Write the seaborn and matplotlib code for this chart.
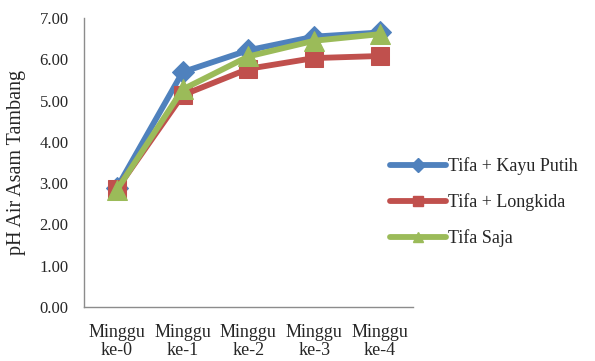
import matplotlib.pyplot as plt
import pandas as pd
import seaborn as sns
from matplotlib.lines import Line2D

weeks = ["Minggu\nke-0", "Minggu\nke-1", "Minggu\nke-2", "Minggu\nke-3", "Minggu\nke-4"]
kayu_putih = [2.88, 5.69, 6.22, 6.55, 6.65]
longkida = [2.85, 5.13, 5.77, 6.03, 6.08]
saja = [2.83, 5.27, 6.07, 6.45, 6.61]
series = ["Tifa + Kayu Putih", "Tifa + Longkida", "Tifa Saja"]

df = pd.DataFrame({
    "week": list(range(len(weeks))) * 3,
    "pH": kayu_putih + longkida + saja,
    "treatment": [s for s in series for _ in weeks],
})

sns.set_style("white")
plt.rcParams["font.family"] = ["Liberation Serif", "DejaVu Serif"]

fig = plt.figure(figsize=(5.95, 3.61), dpi=100)
ax = fig.add_axes([0.141, 0.150, 0.553, 0.800])

colors = {"Tifa + Kayu Putih": "#4F81BD", "Tifa + Longkida": "#C0504D", "Tifa Saja": "#9BBB59"}
markers = {"Tifa + Kayu Putih": "D", "Tifa + Longkida": "s", "Tifa Saja": "^"}
sizes = {"Tifa + Kayu Putih": 11, "Tifa + Longkida": 13, "Tifa Saja": 15}

for name in series:
    sub = df[df["treatment"] == name]
    sns.lineplot(data=sub, x="week", y="pH", ax=ax, color=colors[name], marker=markers[name],
                 markersize=sizes[name], markeredgecolor=colors[name], linewidth=4.2, legend=False,
                 solid_joinstyle="round", solid_capstyle="round")

ax.set_xlim(-0.5, 4.5)
ax.set_ylim(0, 7)
ax.set_yticks([i for i in range(8)])
ax.set_yticklabels([f"{i:.2f}" for i in range(8)], fontsize=12)
ax.set_xticks(range(len(weeks)))
ax.set_xticklabels(weeks, fontsize=13, linespacing=1.1)
ax.set_xlabel("")
ax.set_ylabel("pH Air Asam Tambang", fontsize=14.5, labelpad=10)
ax.tick_params(axis="y", length=0, pad=11)
ax.tick_params(axis="x", length=0, pad=12)

for side in ["top", "right"]:
    ax.spines[side].set_visible(False)
for side in ["left", "bottom"]:
    ax.spines[side].set_color("#8c8c8c")
    ax.spines[side].set_linewidth(1.0)

handles = [Line2D([], [], color=colors[n], marker=markers[n], markersize=7, linewidth=4.2,
                  solid_capstyle="round") for n in series]
fig.legend(handles, series, loc="center left", bbox_to_anchor=(0.628, 0.44), frameon=False,
           fontsize=13, handlelength=3.1, handletextpad=0.1, labelspacing=1.0)

fig.savefig("out.png", dpi=100)
